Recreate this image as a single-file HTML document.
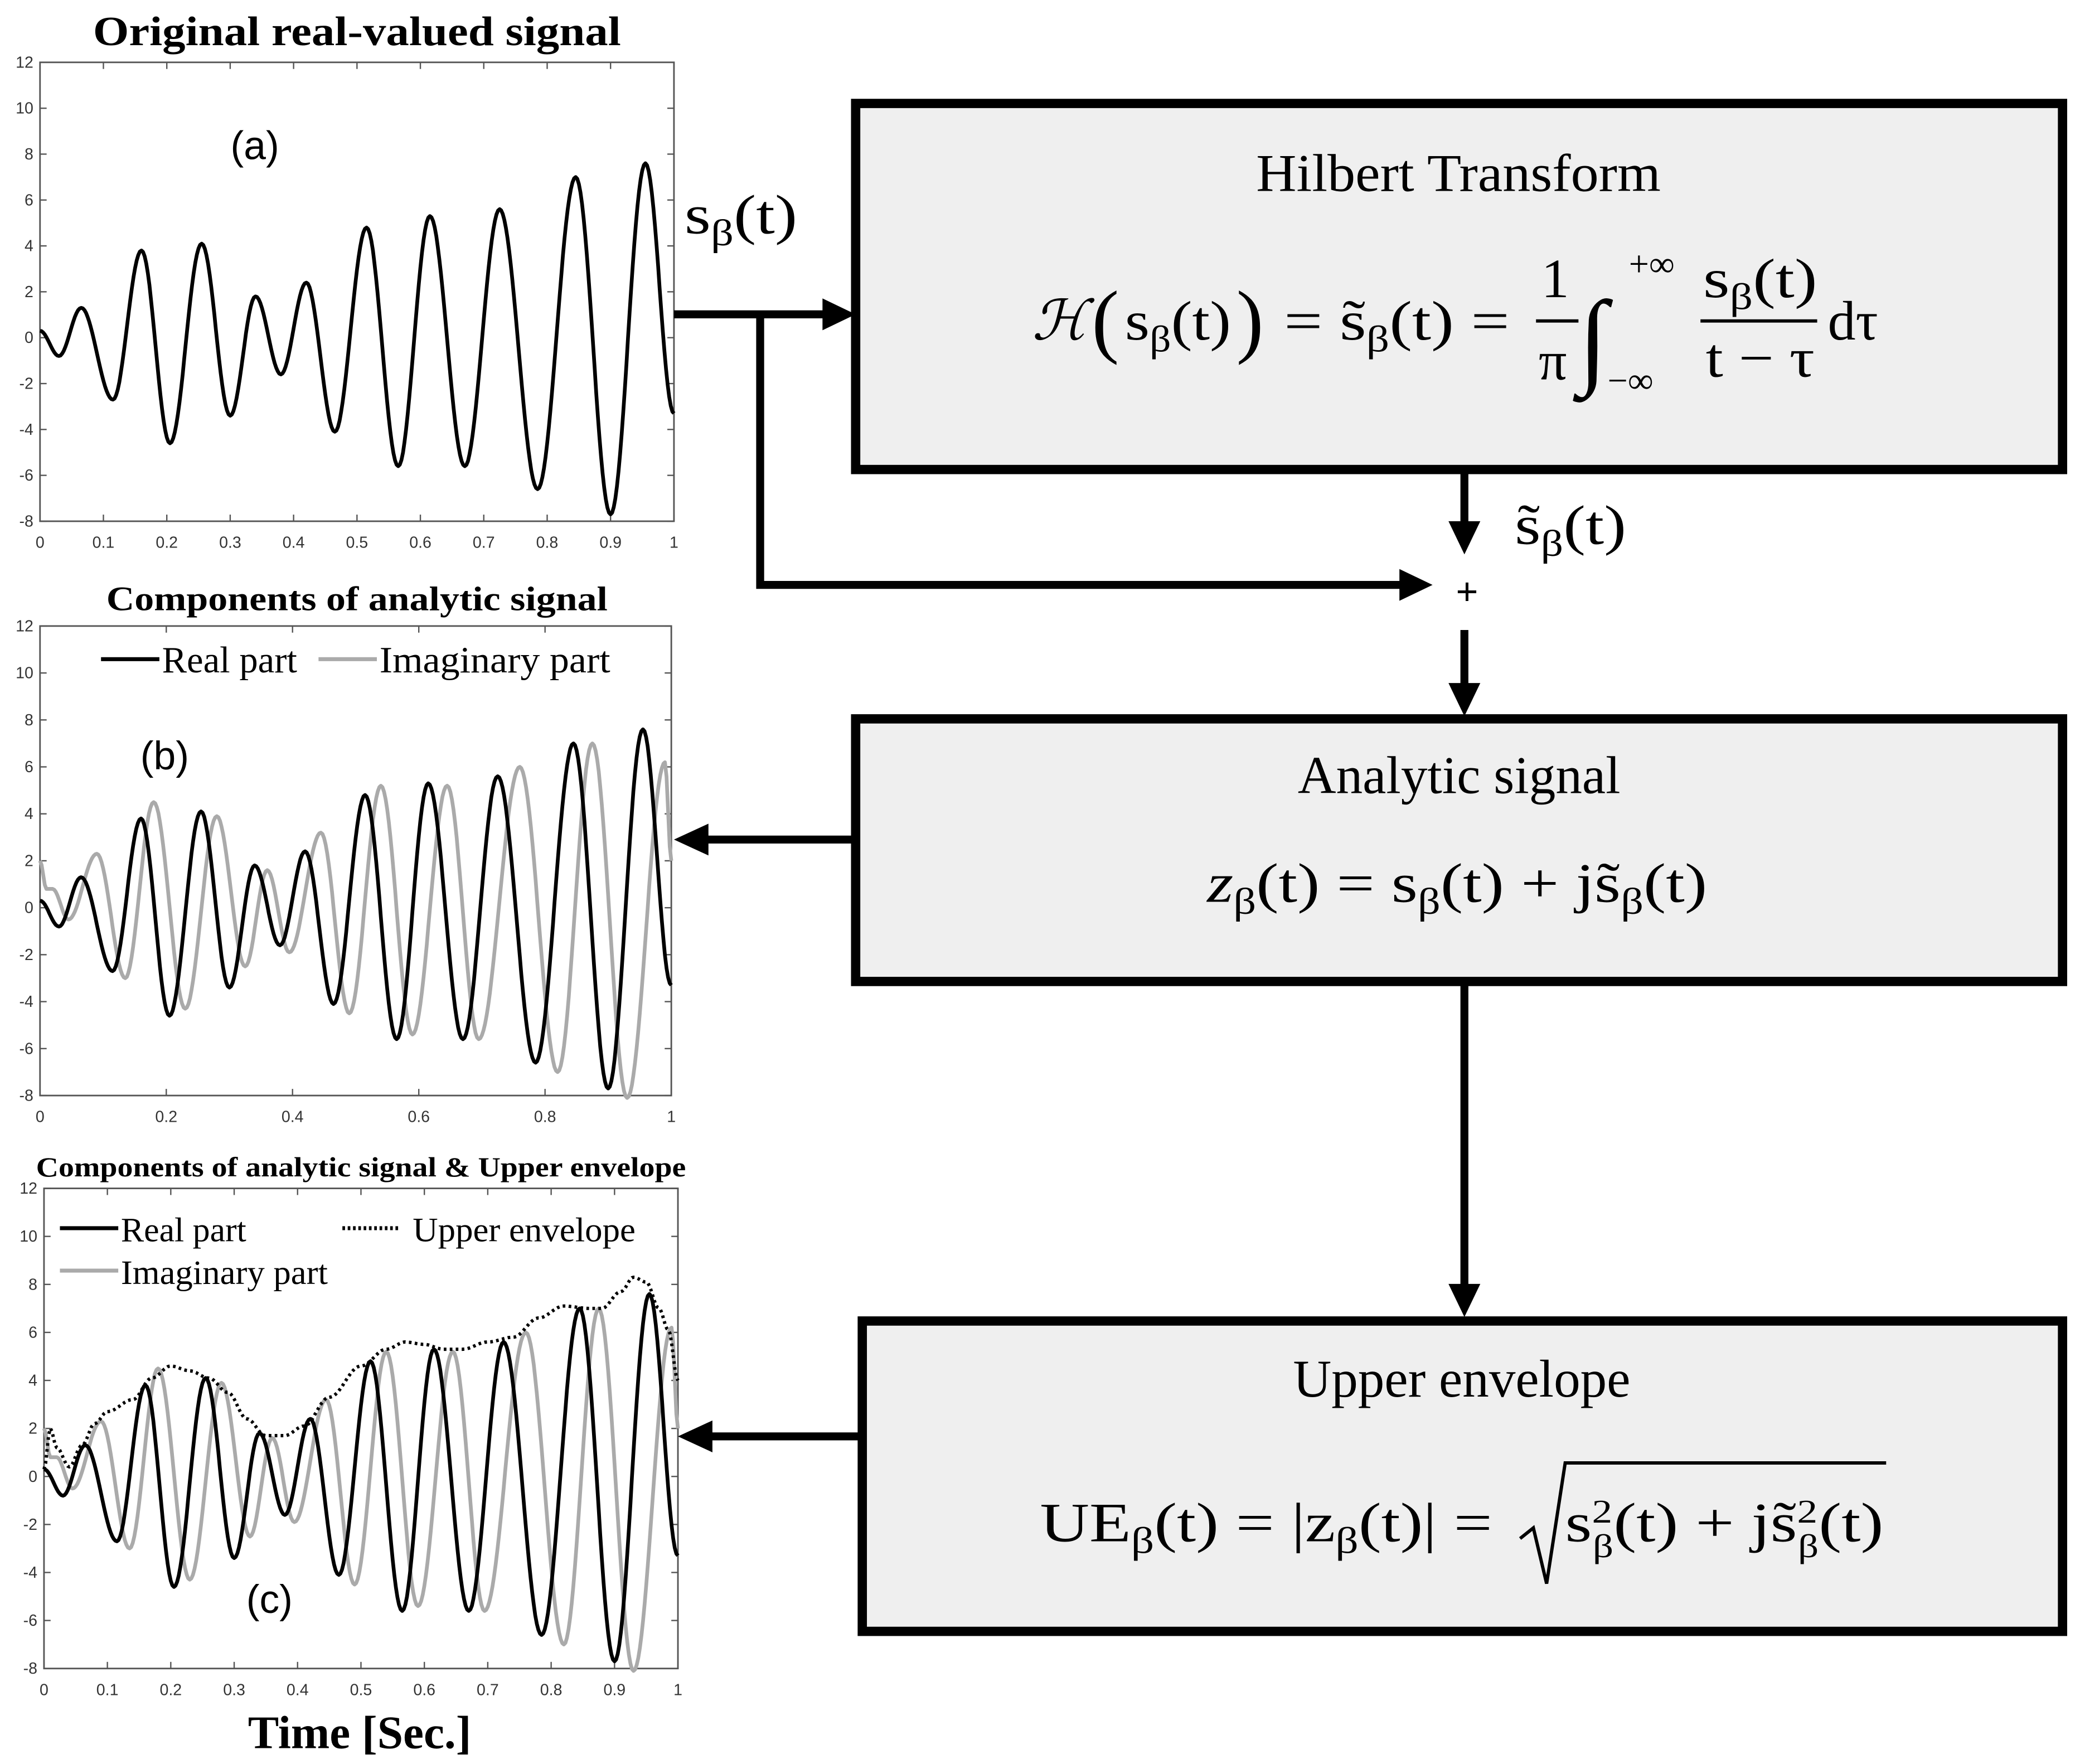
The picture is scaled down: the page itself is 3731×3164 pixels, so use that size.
<!DOCTYPE html>
<html><head><meta charset="utf-8"><style>
html,body{margin:0;padding:0;background:#fff}
svg{display:block}
text{font-family:"Liberation Serif","DejaVu Serif",serif}
.ax{font-family:"Liberation Sans",sans-serif;font-size:12px;fill:#333}
</style></head><body>
<svg id="s" width="3731" height="3164" viewBox="0 0 1568 1330" xmlns="http://www.w3.org/2000/svg">
<g id="plots"></g>
<!-- titles -->
<text x="269" y="34" font-size="31" font-weight="bold" text-anchor="middle" textLength="398" lengthAdjust="spacingAndGlyphs">Original real-valued signal</text>
<text x="269" y="460" font-size="26" font-weight="bold" text-anchor="middle" textLength="378" lengthAdjust="spacingAndGlyphs">Components of analytic signal</text>
<text x="272" y="887" font-size="21" font-weight="bold" text-anchor="middle" textLength="490" lengthAdjust="spacingAndGlyphs">Components of analytic signal &amp; Upper envelope</text>
<text x="271" y="1318" font-size="35" font-weight="bold" text-anchor="middle">Time [Sec.]</text>
<text x="192" y="120" font-size="30" text-anchor="middle" style="font-family:'Liberation Sans',sans-serif">(a)</text>
<text x="124" y="580" font-size="30" text-anchor="middle" style="font-family:'Liberation Sans',sans-serif">(b)</text>
<text x="203" y="1216" font-size="30" text-anchor="middle" style="font-family:'Liberation Sans',sans-serif">(c)</text>
<!-- legends -->
<line x1="76" y1="497" x2="120" y2="497" stroke="#000" stroke-width="3"/>
<text x="122" y="507" font-size="28">Real part</text>
<line x1="240" y1="497" x2="284" y2="497" stroke="#aaa" stroke-width="3"/>
<text x="286" y="507" font-size="28" textLength="174" lengthAdjust="spacingAndGlyphs">Imaginary part</text>
<line x1="45" y1="926" x2="89" y2="926" stroke="#000" stroke-width="3"/>
<text x="91" y="936" font-size="26">Real part</text>
<line x1="45" y1="958" x2="89" y2="958" stroke="#aaa" stroke-width="3"/>
<text x="91" y="968" font-size="26" textLength="156" lengthAdjust="spacingAndGlyphs">Imaginary part</text>
<line x1="258" y1="926" x2="302" y2="926" stroke="#000" stroke-width="3" stroke-dasharray="2,2"/>
<text x="311" y="936" font-size="26" textLength="168" lengthAdjust="spacingAndGlyphs">Upper envelope</text>
<!-- boxes -->
<rect x="645" y="78" width="910" height="276" fill="#efefef" stroke="#000" stroke-width="7"/>
<rect x="645" y="542" width="910" height="198" fill="#efefef" stroke="#000" stroke-width="7"/>
<rect x="650" y="996" width="905" height="234" fill="#efefef" stroke="#000" stroke-width="7"/>
<text x="947" y="144" font-size="40" textLength="305" lengthAdjust="spacingAndGlyphs">Hilbert Transform</text>
<text x="1100" y="598" font-size="40" text-anchor="middle">Analytic signal</text>
<text x="1102" y="1053" font-size="40" text-anchor="middle">Upper envelope</text>
<!-- formulas -->
<g font-size="42">
<text x="778" y="256" font-style="italic">ℋ</text>
<text x="823" y="262" font-size="62">(</text>
<text x="848" y="256" textLength="80" lengthAdjust="spacingAndGlyphs">s<tspan font-size="28" dy="9">β</tspan><tspan dy="-9">(t)</tspan></text>
<text x="932" y="262" font-size="62">)</text>
<text x="968" y="256" textLength="170" lengthAdjust="spacingAndGlyphs">= s̃<tspan font-size="28" dy="9">β</tspan><tspan dy="-9">(t) =</tspan></text>
<text x="1162" y="224">1</text>
<line x1="1158" y1="242" x2="1190" y2="242" stroke="#000" stroke-width="2.5"/>
<text x="1160" y="286">π</text>
<text x="1190" y="282" font-size="80">∫</text>
<text x="1228" y="208" font-size="27">+∞</text>
<text x="1212" y="296" font-size="27">−∞</text>
<text x="1284" y="224" textLength="86" lengthAdjust="spacingAndGlyphs">s<tspan font-size="28" dy="9">β</tspan><tspan dy="-9">(t)</tspan></text>
<line x1="1282" y1="242" x2="1370" y2="242" stroke="#000" stroke-width="2.5"/>
<text x="1286" y="284" textLength="82" lengthAdjust="spacingAndGlyphs">t − τ</text>
<text x="1378" y="256">dτ</text>
<text x="910" y="680" textLength="377" lengthAdjust="spacingAndGlyphs"><tspan font-style="italic">z</tspan><tspan font-size="28" dy="9">β</tspan><tspan dy="-9">(t) = s</tspan><tspan font-size="28" dy="9">β</tspan><tspan dy="-9">(t) + js̃</tspan><tspan font-size="28" dy="9">β</tspan><tspan dy="-9">(t)</tspan></text>
<text x="784" y="1162" textLength="341" lengthAdjust="spacingAndGlyphs">UE<tspan font-size="28" dy="9">β</tspan><tspan dy="-9">(t) = |z</tspan><tspan font-size="28" dy="9">β</tspan><tspan dy="-9">(t)| =</tspan></text>
<path d="M1146,1160 L1156,1152 L1166,1194 L1180,1103 L1422,1103" fill="none" stroke="#000" stroke-width="2.5"/>
<text x="1180" y="1162" textLength="240" lengthAdjust="spacingAndGlyphs">s<tspan font-size="25" dy="-14">2</tspan><tspan font-size="25" dx="-12" dy="26">β</tspan><tspan dy="-12">(t) + js̃</tspan><tspan font-size="25" dy="-14">2</tspan><tspan font-size="25" dx="-12" dy="26">β</tspan><tspan dy="-12">(t)</tspan></text>
<text x="516" y="176" textLength="85" lengthAdjust="spacingAndGlyphs">s<tspan font-size="28" dy="9">β</tspan><tspan dy="-9">(t)</tspan></text>
<text x="1142" y="410" textLength="84" lengthAdjust="spacingAndGlyphs">s̃<tspan font-size="28" dy="9">β</tspan><tspan dy="-9">(t)</tspan></text>
</g>
<text x="1106" y="456" font-size="30" text-anchor="middle" font-weight="bold">+</text>
<!-- connectors -->
<g stroke="#000" stroke-width="6" fill="none">
<line x1="508" y1="237" x2="622" y2="237"/>
<polyline points="573,237 573,441 1056,441"/>
<line x1="1104" y1="354" x2="1104" y2="395"/>
<line x1="1104" y1="475" x2="1104" y2="518"/>
<line x1="645" y1="633" x2="532" y2="633"/>
<line x1="1104" y1="740" x2="1104" y2="970"/>
<line x1="650" y1="1083" x2="534" y2="1083"/>
</g>
<g fill="#000">
<path d="M645,237 L620,225 L620,249z"/>
<path d="M1080,441 L1055,429 L1055,453z"/>
<path d="M1104,418 L1092,393 L1116,393z"/>
<path d="M1104,540 L1092,515 L1116,515z"/>
<path d="M508,633 L534,621 L534,645z"/>
<path d="M1104,993 L1092,968 L1116,968z"/>
<path d="M511,1083 L537,1071 L537,1095z"/>
</g>
</svg>
<script>
(function(){
var NS="http://www.w3.org/2000/svg",g=document.getElementById("plots");
function el(t,a,txt){var e=document.createElementNS(NS,t);for(var k in a)e.setAttribute(k,a[k]);if(txt!=null)e.textContent=txt;g.appendChild(e);return e;}
var R=[[0,0.3],[0.03,-0.8],[0.065,1.3],[0.115,-2.7],[0.16,3.8],[0.205,-4.6],[0.255,4.1],[0.3,-3.4],[0.34,1.8],[0.38,-1.6],[0.42,2.4],[0.465,-4.1],[0.515,4.8],[0.565,-5.6],[0.615,5.3],[0.67,-5.6],[0.725,5.6],[0.785,-6.6],[0.845,7.0],[0.9,-7.7],[0.955,7.6],[1.0,-3.3]];
var I=[[0,2.0],[0.01,0.8],[0.02,0.8],[0.045,-0.5],[0.09,2.3],[0.135,-3.0],[0.18,4.5],[0.23,-4.3],[0.28,3.9],[0.325,-2.5],[0.36,1.6],[0.395,-1.9],[0.445,3.2],[0.49,-4.5],[0.54,5.2],[0.59,-5.4],[0.645,5.2],[0.695,-5.6],[0.76,6.0],[0.82,-7.0],[0.875,7.0],[0.93,-8.1],[0.99,6.2],[1.0,2.0]];
var E=[[0,0.3],[0.01,2.0],[0.02,1.2],[0.04,0.4],[0.06,1.3],[0.08,2.2],[0.1,2.7],[0.14,3.2],[0.17,4.1],[0.2,4.6],[0.23,4.4],[0.26,4.1],[0.29,3.5],[0.32,2.4],[0.35,1.7],[0.38,1.7],[0.41,2.1],[0.45,3.3],[0.5,4.6],[0.54,5.3],[0.57,5.6],[0.6,5.5],[0.63,5.3],[0.66,5.3],[0.7,5.6],[0.74,5.8],[0.78,6.6],[0.82,7.1],[0.86,7.0],[0.88,7.0],[0.91,7.7],[0.93,8.3],[0.95,8.1],[0.97,7.0],[0.985,6.1],[1.0,4.0]];
function interp(P,t){for(var i=0;i<P.length-1;i++){if(t<=P[i+1][0]){var a=P[i],b=P[i+1],u=(t-a[0])/(b[0]-a[0]);u=(1-Math.cos(Math.PI*u))/2;return a[1]+(b[1]-a[1])*u;}}return P[P.length-1][1];}
function curve(P,X0,X1,Y0,Y1,col,w,dash){var d="";for(var i=0;i<=400;i++){var t=i/400,v=interp(P,t);var x=X0+t*(X1-X0),y=Y0+(12-v)/20*(Y1-Y0);d+=(i?"L":"M")+x.toFixed(1)+","+y.toFixed(1);}var a={d:d,fill:"none",stroke:col,"stroke-width":w,"stroke-linejoin":"round"};if(dash)a["stroke-dasharray"]=dash;el("path",a);}
function axes(X0,X1,Y0,Y1,xt){el("rect",{x:X0,y:Y0,width:X1-X0,height:Y1-Y0,fill:"#fff",stroke:"#555","stroke-width":1.2});
for(var v=12;v>=-8;v-=2){var y=Y0+(12-v)/20*(Y1-Y0);el("line",{x1:X0,y1:y,x2:X0+5,y2:y,stroke:"#555"});el("line",{x1:X1,y1:y,x2:X1-5,y2:y,stroke:"#555"});el("text",{x:X0-5,y:y+4,"text-anchor":"end",class:"ax"},String(v));}
for(var i=0;i<xt.length;i++){var t=xt[i],x=X0+t*(X1-X0);el("line",{x1:x,y1:Y1,x2:x,y2:Y1-5,stroke:"#555"});el("line",{x1:x,y1:Y0,x2:x,y2:Y0+5,stroke:"#555"});el("text",{x:x,y:Y1+20,"text-anchor":"middle",class:"ax"},String(t));}}
var xa=[0,0.1,0.2,0.3,0.4,0.5,0.6,0.7,0.8,0.9,1];
axes(30,508,47,393,xa);curve(R,30,508,47,393,"#000",2.8);
axes(30,506,472,826,[0,0.2,0.4,0.6,0.8,1]);curve(I,30,506,472,826,"#aaa",2.8);curve(R,30,506,472,826,"#000",2.8);
axes(33,511,896,1258,xa);curve(I,33,511,896,1258,"#aaa",2.8);curve(R,33,511,896,1258,"#000",2.8);curve(E,33,511,896,1258,"#000",2.5,"2,2.5");
})();
</script>
</body></html>
